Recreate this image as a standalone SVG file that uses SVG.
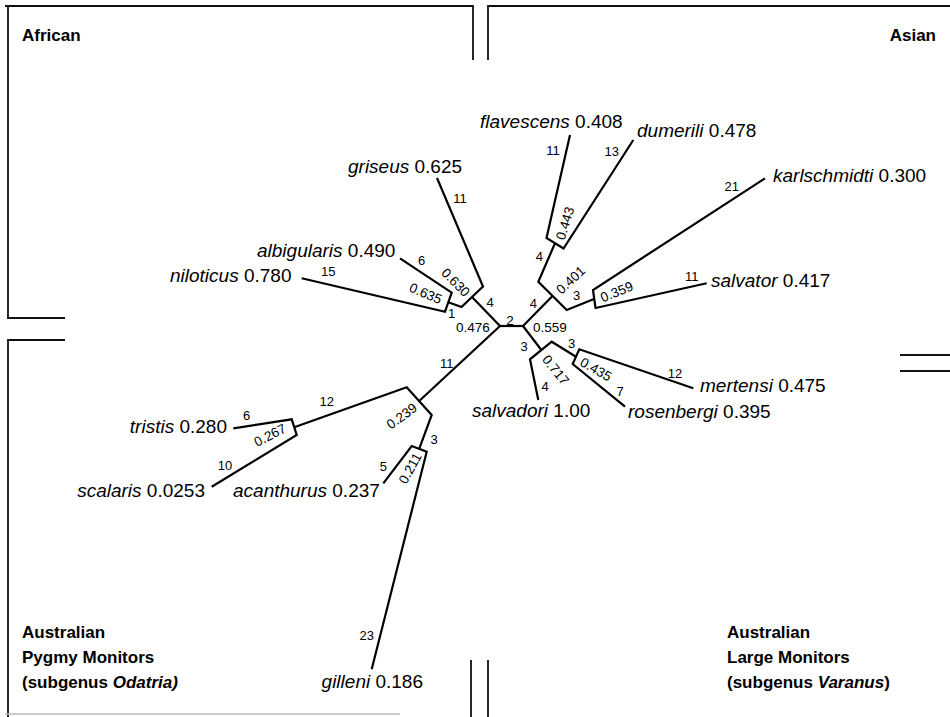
<svg xmlns="http://www.w3.org/2000/svg" width="950" height="717" viewBox="0 0 950 717">
<style>
.frame{fill:none;stroke:#111;stroke-width:1.8}
.br{fill:none;stroke:#000;stroke-width:2.2;stroke-linejoin:miter;stroke-linecap:butt}
.sp{font-family:"Liberation Sans",Arial,sans-serif;font-size:19px;fill:#000}
.sp tspan.n{font-style:italic}
.bl{font-family:"Liberation Sans",Arial,sans-serif;font-size:13px;fill:#000;text-anchor:middle}
.bs{font-family:"Liberation Sans",Arial,sans-serif;font-size:13.5px;fill:#000;text-anchor:middle}
.ti{font-family:"Liberation Sans",Arial,sans-serif;font-size:17px;font-weight:bold;fill:#000}
</style>
<rect width="950" height="717" fill="#fff"/>
<g id="frame">
<polyline class="frame" points="473,60 473,6 5,6"/>
<polyline class="frame" points="8,6 8,318 65,318"/>
<polyline class="frame" points="65,340 8,340 8,717"/>
<polyline class="frame" points="488,60 488,6 950,6"/>
<line class="frame" x1="900" y1="355" x2="950" y2="355"/>
<line class="frame" x1="900" y1="371" x2="950" y2="371"/>
<line class="frame" x1="471" y1="660" x2="471" y2="717"/>
<line class="frame" x1="488" y1="660" x2="488" y2="717"/>
<line x1="5" y1="714" x2="400" y2="714" stroke="#bbb" stroke-width="1.5"/>
</g>
<g id="regions">
<text id="t-african" class="ti" x="22" y="41">African</text>
<text id="t-asian" class="ti" x="936" y="41" text-anchor="end">Asian</text>
<g id="t-pygmy">
<text class="ti" x="22" y="638">Australian</text>
<text class="ti" x="22" y="663">Pygmy Monitors</text>
<text class="ti" x="22" y="688">(subgenus <tspan font-style="italic">Odatria)</tspan></text>
</g>
<g id="t-large">
<text class="ti" x="727" y="638">Australian</text>
<text class="ti" x="727" y="663">Large Monitors</text>
<text class="ti" x="727" y="688">(subgenus <tspan font-style="italic">Varanus</tspan>)</text>
</g>
</g>
<g id="connectors">
<polyline class="br" points="500,326 523,326"/>
<!-- African -->
<polyline class="br" points="500,326 472,297"/>
<polyline class="br" points="437,178 483,286.5 461.5,307 448.3,302.2"/>
<polyline class="br" points="400,258.3 451.7,292.7 445,311.7 301.7,278.3"/>
<!-- Asian -->
<polyline class="br" points="523,326 552.5,296"/>
<polyline class="br" points="555,243.3 538.3,281.7 566.7,310 594,299"/>
<polyline class="br" points="570,135 546.5,238 563.5,248.5 633.3,140"/>
<polyline class="br" points="765,178.3 593,290 595.5,308 706.7,283.3"/>
<!-- Large monitors -->
<polyline class="br" points="523,326 541,349.5"/>
<polyline class="br" points="538.3,400 530,359.3 551.7,341.7 576,356.7"/>
<polyline class="br" points="693.3,388.3 579.3,349.3 572.7,364 625,406.7"/>
<!-- Pygmy -->
<polyline class="br" points="500,326 419.2,401"/>
<polyline class="br" points="294.2,427.2 406.7,387.3 431.7,415 419.2,448.9"/>
<polyline class="br" points="233.3,428.3 291.7,419.3 296.7,435 211.7,486.7"/>
<polyline class="br" points="383.3,483.3 411.7,446 426.7,451.7 371.7,669.3"/>
</g>
<g id="branch-labels">
<text class="bs" x="510" y="320" dy="0.35em">2</text>
<text class="bs" x="473" y="327" dy="0.35em">0.476</text>
<text class="bs" x="550" y="327" dy="0.35em">0.559</text>
<text class="bl" x="460" y="198" dy="0.35em">11</text>
<text class="bl" x="421.7" y="260" dy="0.35em">6</text>
<text class="bl" x="328.3" y="271.7" dy="0.35em">15</text>
<text class="bl" x="490" y="302" dy="0.35em">4</text>
<text class="bl" x="451.7" y="313" dy="0.35em">1</text>
<text class="bs" transform="translate(455.7,282.3) rotate(45)" dy="0.35em">0.630</text>
<text class="bs" transform="translate(425.7,293.3) rotate(23)" dy="0.35em">0.635</text>
<text class="bl" x="553" y="150" dy="0.35em">11</text>
<text class="bl" x="611.7" y="151.7" dy="0.35em">13</text>
<text class="bl" x="539.3" y="256.7" dy="0.35em">4</text>
<text class="bl" x="533.3" y="303.3" dy="0.35em">4</text>
<text class="bl" x="576.7" y="295" dy="0.35em">3</text>
<text class="bl" x="731.7" y="186.7" dy="0.35em">21</text>
<text class="bl" x="691.7" y="276.7" dy="0.35em">11</text>
<text class="bs" transform="translate(565,223.3) rotate(-73)" dy="0.35em">0.443</text>
<text class="bs" transform="translate(570.7,280) rotate(-43)" dy="0.35em">0.401</text>
<text class="bs" transform="translate(616.7,291.7) rotate(-22)" dy="0.35em">0.359</text>
<text class="bl" x="524" y="346" dy="0.35em">3</text>
<text class="bl" x="545" y="386" dy="0.35em">4</text>
<text class="bl" x="571.7" y="343.3" dy="0.35em">3</text>
<text class="bl" x="675" y="373.3" dy="0.35em">12</text>
<text class="bl" x="620" y="391.7" dy="0.35em">7</text>
<text class="bs" transform="translate(555.7,370) rotate(51)" dy="0.35em">0.717</text>
<text class="bs" transform="translate(596,369.3) rotate(30)" dy="0.35em">0.435</text>
<text class="bl" x="446.7" y="363.3" dy="0.35em">11</text>
<text class="bl" x="326.7" y="401.7" dy="0.35em">12</text>
<text class="bl" x="246.7" y="415" dy="0.35em">6</text>
<text class="bl" x="225" y="465" dy="0.35em">10</text>
<text class="bl" x="434" y="439.3" dy="0.35em">3</text>
<text class="bl" x="383.3" y="466.7" dy="0.35em">5</text>
<text class="bl" x="366.7" y="635" dy="0.35em" font-size="12">23</text>
<text class="bs" transform="translate(270,435) rotate(-27)" dy="0.35em">0.267</text>
<text class="bs" transform="translate(401.7,416) rotate(-36)" dy="0.35em">0.239</text>
<text class="bs" transform="translate(410,468.3) rotate(-61)" dy="0.35em">0.211</text>
</g>
<g id="nodes">
<g id="griseus"><text class="sp" x="348" y="173"><tspan class="n">griseus</tspan> 0.625</text></g>
<g id="albigularis"><text class="sp" x="257" y="257"><tspan class="n">albigularis</tspan> 0.490</text></g>
<g id="niloticus"><text class="sp" x="170" y="282"><tspan class="n">niloticus</tspan> 0.780</text></g>
<g id="flavescens"><text class="sp" x="480" y="128"><tspan class="n">flavescens</tspan> 0.408</text></g>
<g id="dumerili"><text class="sp" x="637" y="137"><tspan class="n">dumerili</tspan> 0.478</text></g>
<g id="karlschmidti"><text class="sp" x="773" y="182"><tspan class="n">karlschmidti</tspan> 0.300</text></g>
<g id="salvator"><text class="sp" x="711" y="287"><tspan class="n">salvator</tspan> 0.417</text></g>
<g id="mertensi"><text class="sp" x="700" y="392"><tspan class="n">mertensi</tspan> 0.475</text></g>
<g id="rosenbergi"><text class="sp" x="628" y="418"><tspan class="n">rosenbergi</tspan> 0.395</text></g>
<g id="salvadori"><text class="sp" x="472" y="417"><tspan class="n">salvadori</tspan> 1.00</text></g>
<g id="tristis"><text class="sp" x="227" y="433" text-anchor="end"><tspan class="n">tristis</tspan> 0.280</text></g>
<g id="scalaris"><text class="sp" x="205" y="497" text-anchor="end"><tspan class="n">scalaris</tspan> 0.0253</text></g>
<g id="acanthurus"><text class="sp" x="233" y="497"><tspan class="n">acanthurus</tspan> 0.237</text></g>
<g id="gilleni"><text class="sp" x="423" y="688" text-anchor="end"><tspan class="n">gilleni</tspan> 0.186</text></g>
</g>
</svg>
